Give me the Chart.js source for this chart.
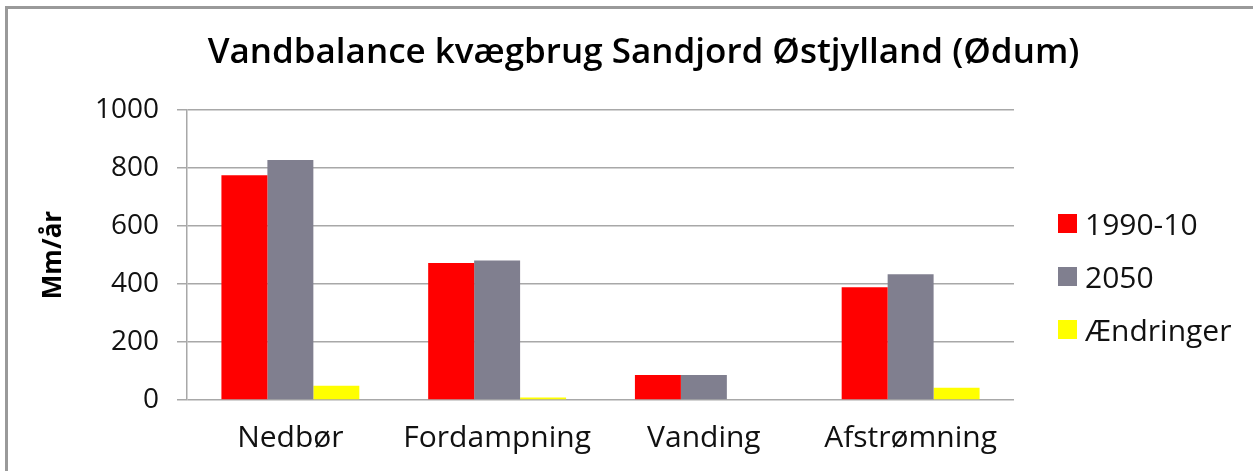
<!DOCTYPE html>
<html>
<head>
<meta charset="utf-8">
<script src="https://cdn.jsdelivr.net/npm/chart.js@4/dist/chart.umd.min.js"></script>
<style>
  html, body { margin: 0; padding: 0; background: #fff; }
  #wrap { position: relative; width: 1253px; height: 471px; overflow: hidden; }
  #frame { position: absolute; left: 5px; top: 6px; width: 1300px; height: 500px;
           border-top: 3px solid #9a9a9a; border-left: 3px solid #9a9a9a; box-sizing: border-box; }
  #chart { position: absolute; left: 0; top: 0; }
  #legend { position: absolute; left: 1058px; top: 197px; font-family: "Open Sans", sans-serif;
            font-size: 30px; color: #111; }
  #legend div { display: flex; align-items: center; height: 53px; }
  #legend span.box { width: 19px; height: 19px; margin-right: 8px; display: inline-block; }
</style>
</head>
<body>
<div id="wrap">
  <div id="frame"></div>
  <canvas id="chart" width="1253" height="471"></canvas>
  <div id="legend"></div>
</div>
<script>
// Kategorier og serier (mm/år)
const categories = ["Nedbør", "Fordampning", "Vanding", "Afstrømning"];
const seriesNames = ["1990-10", "2050", "Ændringer"];
const values1990 = [775, 472, 86, 389];
const values2050 = [828, 481, 86, 434];
const changes = [49, 9, 0, 42];
const yTicks = [0, 200, 400, 600, 800, 1000];
const colors = ["#ff0000", "#807f8f", "#ffff00"];

const seriesValues = [values1990, values2050, changes];

const config = {
  type: "bar",
  data: {
    labels: categories,
    datasets: seriesNames.map((name, i) => ({
      label: name,
      data: seriesValues[i],
      backgroundColor: colors[i],
      borderWidth: 0,
      categoryPercentage: 0.667,
      barPercentage: 1.0,
    })),
  },
  options: {
    responsive: false,
    animation: false,
    layout: { padding: { left: 34, right: 0, top: 0, bottom: 0 } },
    plugins: {
      legend: { display: false },
      tooltip: { enabled: false },
      title: {
        display: true,
        text: "Vandbalance kvægbrug Sandjord Østjylland (Ødum)",
        color: "#000",
        font: { family: "Open Sans", size: 35, weight: "600", lineHeight: 1.2 },
        padding: { top: 32, bottom: 36 },
      },
    },
    scales: {
      x: {
        grid: { display: false, drawTicks: false },
        border: { display: false },
        ticks: {
          color: "#111",
          font: { family: "Open Sans", size: 30 },
          padding: 20,
        },
        afterFit: (scale) => { scale.height = 71; },
      },
      y: {
        min: 0,
        max: 1000,
        afterBuildTicks: (scale) => { scale.ticks = yTicks.map((v) => ({ value: v })); },
        grid: { color: "#a8a8a8", lineWidth: 1.5, tickLength: 10 },
        border: { color: "#a8a8a8", width: 1.5 },
        ticks: {
          color: "#111",
          font: { family: "Open Sans", size: 28 },
          padding: 18,
          callback: (v) => String(v),
        },
        title: {
          display: true,
          text: "Mm/år",
          color: "#000",
          font: { family: "Open Sans", size: 26, weight: "bold" },
          padding: { top: 4 },
        },
        afterFit: (scale) => { scale.width = 153; },
      },
      // tom akse i højre side holder plads til legenden
      side: {
        position: "right",
        grid: { display: false },
        border: { display: false },
        ticks: { display: false },
        afterFit: (scale) => { scale.width = 239; },
      },
    },
  },
};

const ctx = document.getElementById("chart").getContext("2d");
const chart = new Chart(ctx, config);

// Legende ved siden af plottet
const legend = document.getElementById("legend");
seriesNames.forEach((name, i) => {
  const row = document.createElement("div");
  row.innerHTML = `<span class="box" style="background:${colors[i]}"></span>${name}`;
  legend.appendChild(row);
});
</script>
</body>
</html>
